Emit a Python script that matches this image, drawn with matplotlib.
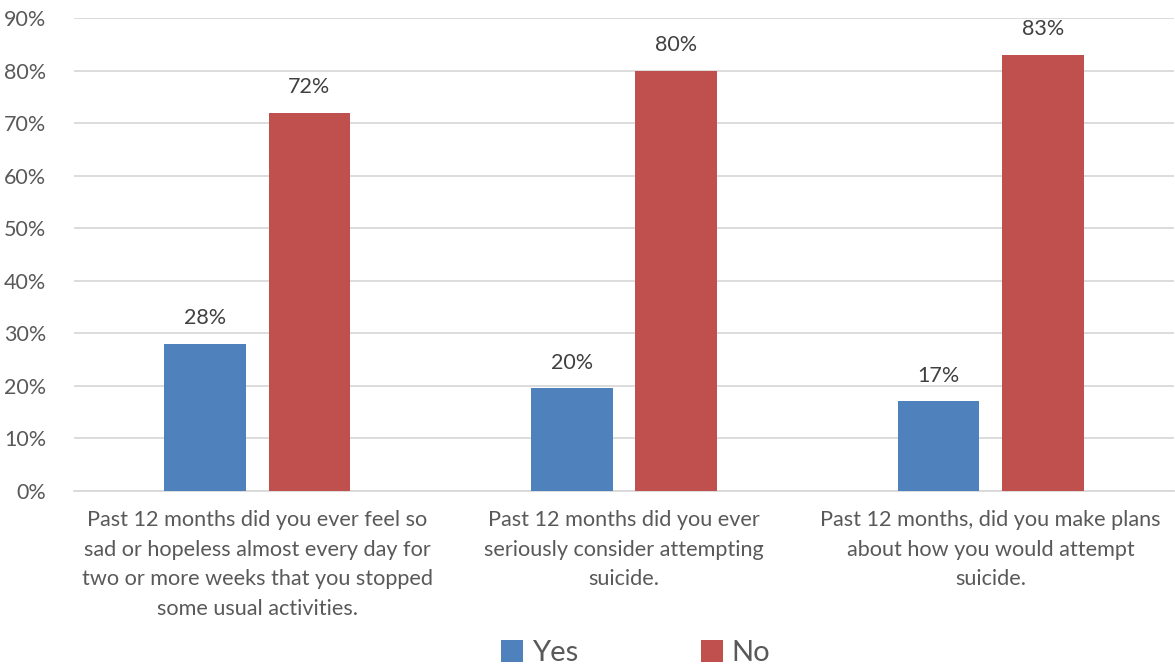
import matplotlib
matplotlib.use("Agg")
import matplotlib.pyplot as plt
import numpy as np

categories = [
    "Past 12 months did you ever feel so\nsad or hopeless almost every day for\ntwo or more weeks that you stopped\nsome usual activities.",
    "Past 12 months did you ever\nseriously consider attempting\nsuicide.",
    "Past 12 months, did you make plans\nabout how you would attempt\nsuicide.",
]
yes_vals = [28, 19.5, 17]
no_vals = [72, 80, 83]
yes_labels = ["28%", "20%", "17%"]
no_labels = ["72%", "80%", "83%"]
yticks = list(range(0, 100, 10))

plt.rcParams['font.family'] = ['Lato', 'DejaVu Sans']
txt = '#595959'
blue = '#4F81BD'
red = '#C0504D'

fig = plt.figure(figsize=(11.75, 6.7), dpi=100)
ax = fig.add_axes([74/1175, 1 - 490.7/670, 1100/1175, (490.7 - 18)/670])

x = np.arange(len(categories))
w = 0.223
off = 0.142
b1 = ax.bar(x - off, yes_vals, w, color=blue, label='Yes', zorder=3)
b2 = ax.bar(x + off, no_vals, w, color=red, label='No', zorder=3)

for bars, labs in ((b1, yes_labels), (b2, no_labels)):
    for r, l in zip(bars, labs):
        ax.annotate(l, (r.get_x() + r.get_width() / 2, r.get_height()),
                    xytext=(0, 11), textcoords='offset points', ha='center', va='bottom',
                    fontsize=15.5, color='#404040')

ax.set_xlim(-0.5, 2.5)
ax.set_ylim(0, 90)
ax.set_yticks(yticks)
ax.set_yticklabels([f"{v}%" for v in yticks], fontsize=15.5, color=txt)
ax.set_xticks(x)
ax.set_xticklabels(categories, fontsize=15.6, color=txt, linespacing=1.6)
ax.tick_params(axis='both', length=0)
ax.tick_params(axis='y', pad=20)
ax.tick_params(axis='x', pad=14)
ax.yaxis.grid(True, color='#D9D9D9', linewidth=1.3, zorder=0)
for s in ['top', 'right', 'left']:
    ax.spines[s].set_visible(False)
ax.spines['bottom'].set_color('#D9D9D9')
ax.spines['bottom'].set_linewidth(1.3)

leg = fig.legend(loc='center', bbox_to_anchor=(0.541, 1 - 653/670), ncol=2, frameon=False,
                 fontsize=21, handlelength=0.75, handleheight=0.75, columnspacing=4.2,
                 handletextpad=0.3)
for t in leg.get_texts():
    t.set_color(txt)

fig.savefig('out.png', dpi=100)
